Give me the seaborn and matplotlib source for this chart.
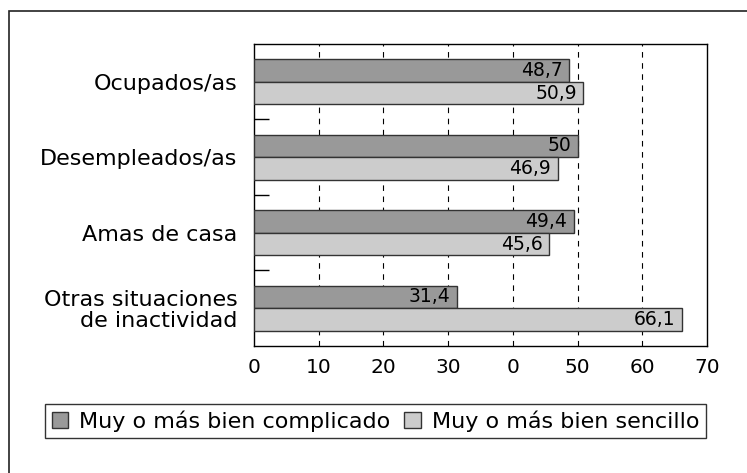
import matplotlib
matplotlib.use("Agg")
import matplotlib.pyplot as plt
import seaborn as sns
import pandas as pd
from matplotlib.patches import Rectangle, Patch
from matplotlib.ticker import FixedLocator

categories = ["Ocupados/as", "Desempleados/as", "Amas de casa",
              "Otras situaciones\nde inactividad"]
series_names = ["Muy o más bien complicado", "Muy o más bien sencillo"]
complicado = [48.7, 50.0, 49.4, 31.4]
sencillo = [50.9, 46.9, 45.6, 66.1]
x_ticks = [0, 10, 20, 30, 40, 50, 60, 70]
x_tick_labels = ["0", "10", "20", "30", "0", "50", "60", "70"]

colors = ["#999999", "#cccccc"]

df = pd.DataFrame({
    "cat": categories * 2,
    "serie": [series_names[0]] * 4 + [series_names[1]] * 4,
    "valor": complicado + sencillo,
})

sns.set_theme(style="white")
plt.rcParams["font.family"] = ["DejaVu Sans"]
plt.rcParams["text.color"] = "black"

fig = plt.figure(figsize=(7.47, 4.73), dpi=100)
ax = fig.add_axes([0.340, 0.2685, 0.6065, 0.6385])

sns.barplot(data=df, y="cat", x="valor", hue="serie", order=categories,
            hue_order=series_names, palette=colors, orient="h", width=0.6,
            edgecolor="#333333", linewidth=1.0, saturation=1, ax=ax,
            legend=False, zorder=3)

ax.set_xlim(0, 70)
ax.set_ylim(3.5, -0.5)
ax.set_xticks(x_ticks)
ax.set_xticklabels(x_tick_labels, fontsize=14.5)
ax.set_xlabel("")
ax.set_ylabel("")
ax.tick_params(axis="x", direction="in", length=9.5, width=1, color="black",
               pad=9, labelcolor="black")
ax.tick_params(axis="y", which="major", length=0, pad=12, labelsize=16,
               labelcolor="black")
ax.yaxis.set_minor_locator(FixedLocator([0.5, 1.5, 2.5]))
ax.tick_params(axis="y", which="minor", direction="in", length=11, width=1,
               color="black", left=True)
for lab in ax.get_yticklabels():
    lab.set_multialignment("right")
    lab.set_linespacing(1.05)

for x in x_ticks[1:-1]:
    ax.axvline(x, color="black", lw=0.8, ls=(0, (5, 5)), zorder=1)

for s in ax.spines.values():
    s.set_color("black")
    s.set_linewidth(1.0)

for cont in ax.containers:
    for p in cont.patches:
        w = p.get_width()
        txt = f"{w:g}".replace(".", ",")
        ax.text(w - 1.0, p.get_y() + p.get_height() / 2, txt, ha="right",
                va="center", fontsize=13.5, color="black", zorder=4)

handles = [Patch(facecolor=c, edgecolor="#333333", linewidth=1) for c in colors]
leg = fig.legend(handles, series_names, loc="center", ncol=2,
                 bbox_to_anchor=(0.5027, 0.11), fontsize=16, frameon=True,
                 fancybox=False, edgecolor="black", handlelength=0.75,
                 handleheight=0.75, handletextpad=0.5, columnspacing=0.6,
                 borderpad=0.3, borderaxespad=0)
leg.get_frame().set_linewidth(1.0)
for t in leg.get_texts():
    t.set_color("black")

fig.patches.append(Rectangle((9 / 747, -0.1), 1.2, 1 - 11 / 473 + 0.1,
                             transform=fig.transFigure, fill=False,
                             edgecolor="#222222", linewidth=1.2))

fig.savefig("out.png", dpi=100)
